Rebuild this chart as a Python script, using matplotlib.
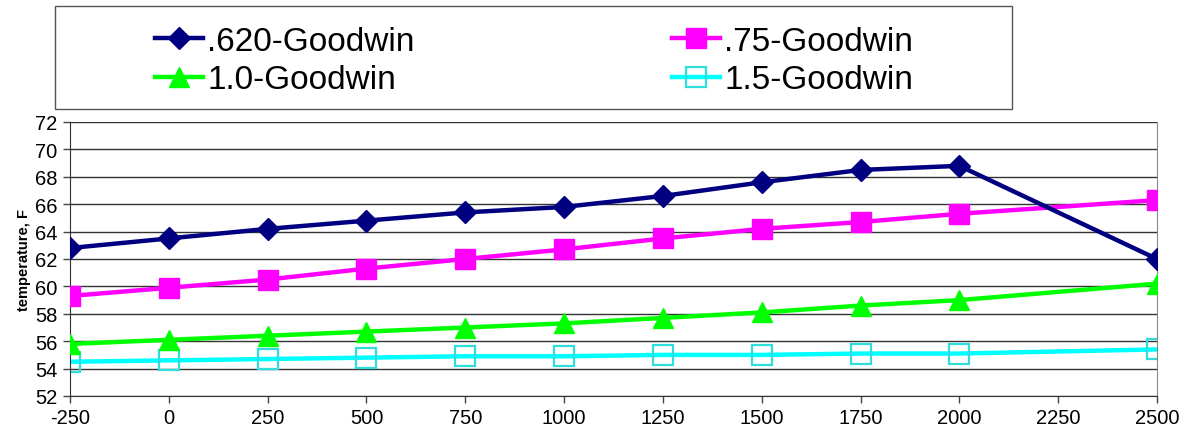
import matplotlib
matplotlib.use("Agg")
import matplotlib.pyplot as plt
from matplotlib.patches import Rectangle

# distance values (x axis)
x = [-250, 0, 250, 500, 750, 1000, 1250, 1500, 1750, 2000, 2500]

# temperature, F for each series
t_620 = [62.8, 63.5, 64.2, 64.8, 65.4, 65.8, 66.6, 67.6, 68.5, 68.8, 62.0]
t_75 = [59.3, 59.9, 60.5, 61.3, 62.0, 62.7, 63.5, 64.2, 64.7, 65.3, 66.3]
t_10 = [55.8, 56.1, 56.4, 56.7, 57.0, 57.3, 57.7, 58.1, 58.6, 59.0, 60.2]
t_15 = [54.5, 54.6, 54.7, 54.8, 54.9, 54.9, 55.0, 55.0, 55.1, 55.1, 55.4]

labels = [".620-Goodwin", ".75-Goodwin", "1.0-Goodwin", "1.5-Goodwin"]
xticks = [-250, 0, 250, 500, 750, 1000, 1250, 1500, 1750, 2000, 2250, 2500]
yticks = [52, 54, 56, 58, 60, 62, 64, 66, 68, 70, 72]

plt.rcParams["font.family"] = ["Liberation Sans", "DejaVu Sans"]
plt.rcParams["axes.unicode_minus"] = False

fig = plt.figure(figsize=(11.88, 4.39), dpi=100)
ax = fig.add_axes([70 / 1188, 1 - 397 / 439, (1157 - 70) / 1188, (397 - 123) / 439])

lw = 3.2
l1, = ax.plot(x, t_620, color="#000080", lw=lw, marker="D", ms=11, zorder=5)
l2, = ax.plot(x, t_75, color="#FF00FF", lw=lw, marker="s", ms=14, zorder=4)
l3, = ax.plot(x, t_10, color="#00FF00", lw=lw, marker="^", ms=15, zorder=3)
l4, = ax.plot(x, t_15, color="#00FFFF", lw=lw, marker="s", ms=14,
              mfc="none", mec="#30DDDD", mew=1.6, zorder=2)

ax.set_xlim(-250, 2500)
ax.set_ylim(52, 72)
ax.set_xticks(xticks)
ax.set_yticks(yticks)
ax.tick_params(labelsize=14.5, length=5, width=1, color="#444444", pad=4)
ax.grid(axis="y", color="#333333", lw=1)
ax.set_axisbelow(True)
for s in ["left", "bottom"]:
    ax.spines[s].set_color("#333333")
ax.spines["right"].set_color("#888888")
ax.spines["top"].set_visible(False)
ax.set_ylabel("temperature, F", fontsize=10.5, fontweight="bold", labelpad=3)

# legend box
fig.patches.append(Rectangle((55 / 1188, 1 - 110 / 439), (1012 - 55) / 1188, 103 / 439,
                             transform=fig.transFigure, fill=False,
                             edgecolor="#555555", lw=1))
common = dict(frameon=False, fontsize=24, handlelength=1.45, handletextpad=0.12,
              labelspacing=0.22, borderpad=0, borderaxespad=0, loc="upper left")
fig.legend([l1, l3], [labels[0], labels[2]], bbox_to_anchor=(155 / 1188, 1 - 27 / 439), **common)
fig.legend([l2, l4], [labels[1], labels[3]], bbox_to_anchor=(672 / 1188, 1 - 27 / 439), **common)

fig.savefig("out.png", dpi=100)
